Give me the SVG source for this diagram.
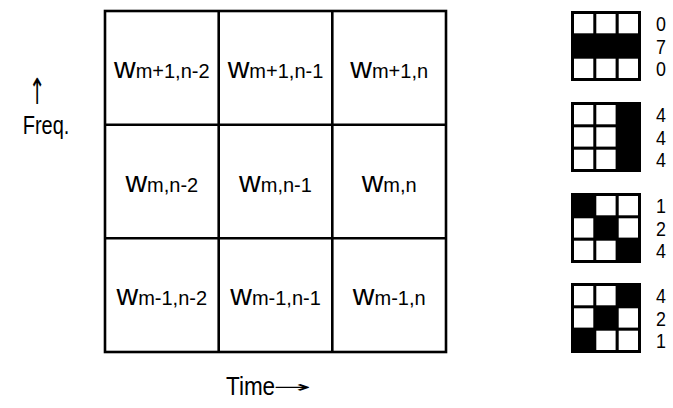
<svg xmlns="http://www.w3.org/2000/svg" width="673" height="408" viewBox="0 0 673 408">
<style>
text{font-family:"Liberation Sans",Arial,sans-serif;fill:#000}
.lab{font-size:30px;text-anchor:middle}
.sub{font-size:20px}
.dig{font-size:21px}
.ax{font-size:25px}
.arr{font-family:"DejaVu Sans",sans-serif;fill:#000}
.gl{stroke:#000;stroke-width:2.6;fill:none}
.off{fill:#fff}
</style>
<rect x="0" y="0" width="673" height="408" fill="#fff"/>
<g id="grid">
<rect class="gl" x="105" y="11" width="341" height="341"/>
<line class="gl" x1="218.7" y1="11" x2="218.7" y2="352"/>
<line class="gl" x1="332.3" y1="11" x2="332.3" y2="352"/>
<line class="gl" x1="105" y1="124.7" x2="446" y2="124.7"/>
<line class="gl" x1="105" y1="238.3" x2="446" y2="238.3"/>
</g>
<g id="cell-m1-n2"><text class="lab" x="161.8" y="78">w<tspan class="sub">m+1,n-2</tspan></text></g>
<g id="cell-m1-n1"><text class="lab" x="275.5" y="78">w<tspan class="sub">m+1,n-1</tspan></text></g>
<g id="cell-m1-n"><text class="lab" x="389.2" y="78">w<tspan class="sub">m+1,n</tspan></text></g>
<g id="cell-m-n2"><text class="lab" x="161.8" y="192">w<tspan class="sub">m,n-2</tspan></text></g>
<g id="cell-m-n1"><text class="lab" x="275.5" y="192">w<tspan class="sub">m,n-1</tspan></text></g>
<g id="cell-m-n"><text class="lab" x="389.2" y="192">w<tspan class="sub">m,n</tspan></text></g>
<g id="cell-m-1-n2"><text class="lab" x="161.8" y="305">w<tspan class="sub">m-1,n-2</tspan></text></g>
<g id="cell-m-1-n1"><text class="lab" x="275.5" y="305">w<tspan class="sub">m-1,n-1</tspan></text></g>
<g id="cell-m-1-n"><text class="lab" x="389.2" y="305">w<tspan class="sub">m-1,n</tspan></text></g>
<g id="freq-label">
<text class="arr" transform="translate(37 104) scale(0.55 1)" font-size="36" text-anchor="middle">↑</text>
<text class="ax" transform="translate(46 134) scale(0.8 1)" text-anchor="middle">Freq.</text>
</g>
<g id="time-label">
<text class="ax" transform="translate(226 395) scale(0.9 1)">Time</text>
<text class="arr" transform="translate(273 392) scale(1.9 0.65)" font-size="24">→</text>
</g>
<g id="pattern-1">
<rect x="571" y="11" width="70" height="70" fill="#000"/>
<rect class="off" x="574" y="14" width="19.3" height="19.3"/><rect class="off" x="596.3" y="14" width="19.3" height="19.3"/><rect class="off" x="618.7" y="14" width="19.3" height="19.3"/>
<rect class="off" x="574" y="58.7" width="19.3" height="19.3"/><rect class="off" x="596.3" y="58.7" width="19.3" height="19.3"/><rect class="off" x="618.7" y="58.7" width="19.3" height="19.3"/>
<g class="dig"><text transform="translate(656 31) scale(0.85 1)">0</text><text transform="translate(656 54) scale(0.85 1)">7</text><text transform="translate(656 76) scale(0.85 1)">0</text></g>
</g>
<g id="pattern-2">
<rect x="571" y="102" width="70" height="70" fill="#000"/>
<rect class="off" x="574" y="105" width="19.3" height="19.3"/><rect class="off" x="596.3" y="105" width="19.3" height="19.3"/>
<rect class="off" x="574" y="127.3" width="19.3" height="19.3"/><rect class="off" x="596.3" y="127.3" width="19.3" height="19.3"/>
<rect class="off" x="574" y="149.7" width="19.3" height="19.3"/><rect class="off" x="596.3" y="149.7" width="19.3" height="19.3"/>
<g class="dig"><text transform="translate(656 122) scale(0.85 1)">4</text><text transform="translate(656 145) scale(0.85 1)">4</text><text transform="translate(656 167) scale(0.85 1)">4</text></g>
</g>
<g id="pattern-3">
<rect x="571" y="193" width="70" height="70" fill="#000"/>
<rect class="off" x="596.3" y="196" width="19.3" height="19.3"/><rect class="off" x="618.7" y="196" width="19.3" height="19.3"/>
<rect class="off" x="574" y="218.3" width="19.3" height="19.3"/><rect class="off" x="618.7" y="218.3" width="19.3" height="19.3"/>
<rect class="off" x="574" y="240.7" width="19.3" height="19.3"/><rect class="off" x="596.3" y="240.7" width="19.3" height="19.3"/>
<g class="dig"><text transform="translate(656 213) scale(0.85 1)">1</text><text transform="translate(656 236) scale(0.85 1)">2</text><text transform="translate(656 258) scale(0.85 1)">4</text></g>
</g>
<g id="pattern-4">
<rect x="571" y="283" width="70" height="70" fill="#000"/>
<rect class="off" x="574" y="286" width="19.3" height="19.3"/><rect class="off" x="596.3" y="286" width="19.3" height="19.3"/>
<rect class="off" x="574" y="308.3" width="19.3" height="19.3"/><rect class="off" x="618.7" y="308.3" width="19.3" height="19.3"/>
<rect class="off" x="596.3" y="330.7" width="19.3" height="19.3"/><rect class="off" x="618.7" y="330.7" width="19.3" height="19.3"/>
<g class="dig"><text transform="translate(656 303) scale(0.85 1)">4</text><text transform="translate(656 326) scale(0.85 1)">2</text><text transform="translate(656 348) scale(0.85 1)">1</text></g>
</g>
</svg>
